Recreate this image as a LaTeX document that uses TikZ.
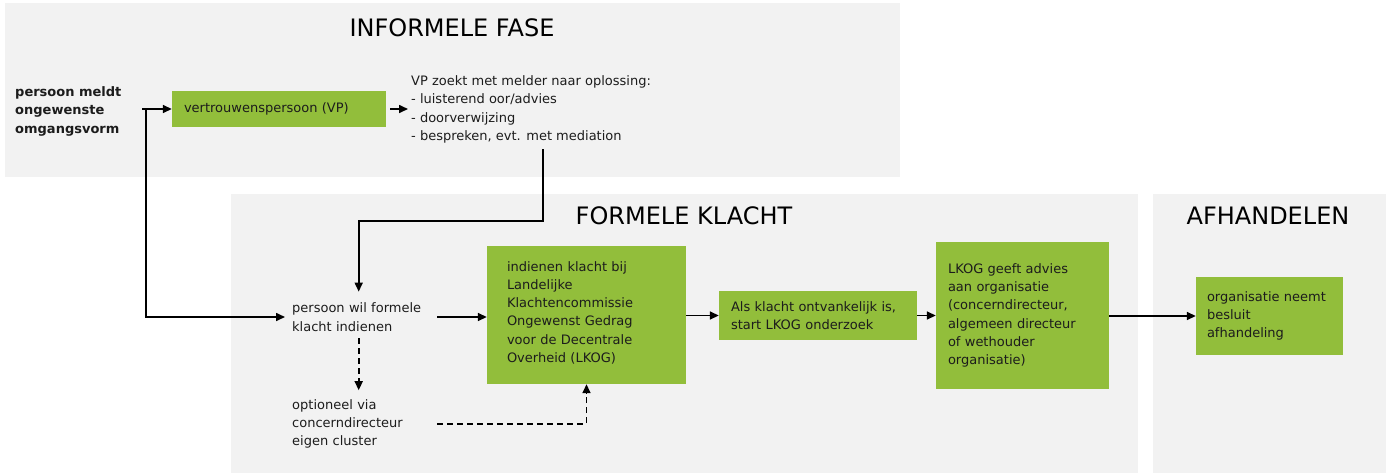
\documentclass[tikz,border=0pt]{standalone}
\usepackage{fontspec}
\setmainfont{DejaVu Sans}
\usetikzlibrary{arrows.meta}
\definecolor{panel}{RGB}{242,242,242}
\definecolor{leaf}{RGB}{146,190,59}
\definecolor{ink}{RGB}{28,28,28}

\begin{document}
\begin{tikzpicture}[x=1pt,y=-1pt,
  txt/.style={font=\fontsize{13}{18.3}\selectfont, text=ink, align=left, inner ysep=3pt},
  greenbox/.style={txt, fill=leaf, inner ysep=0pt},
  phasetitle/.style={font=\fontsize{24}{28}\selectfont, text=black, inner sep=0pt},
  arr/.style={-{Triangle[length=9pt,width=8pt]}, line width=1.6pt, black},
  darr/.style={arr, dash pattern=on 6pt off 4pt}]

\useasboundingbox (0,0) rectangle (1390,474);
\fill[white] (0,0) rectangle (1390,474);

% phase panels
\fill[panel] (5,3) rectangle (900,177);
\fill[panel] (231,194) rectangle (1138,473);
\fill[panel] (1153,194) rectangle (1386,473);

\node[phasetitle] (tinf) at (452,28) {INFORMELE FASE};
\node[phasetitle] (tform) at (684,216) {FORMELE KLACHT};
\node[phasetitle] (tafh) at (1268,216) {AFHANDELEN};

% informal phase
\node[txt, anchor=west, inner sep=0pt, font=\fontsize{13}{18.5}\selectfont\bfseries]
  (melder) at (15,111) {persoon meldt\\ongewenste\\omgangsvorm};
\node[greenbox, minimum height=36pt, text width=190pt, inner xsep=12pt]
  (vp) at (279,109) {vertrouwenspersoon (VP)};
\node[txt, anchor=west, inner xsep=3pt] (vptext) at (408,109.5)
  {VP zoekt met melder naar oplossing:\\- luisterend oor/advies\\- doorverwijzing\\- bespreken, evt. met mediation};

% formal complaint
\node[txt, anchor=west, inner xsep=7pt, text width=133pt] (wil) at (285,317)
  {persoon wil formele\\klacht indienen};
\node[txt, anchor=west, inner xsep=7pt, text width=133pt] (opt) at (285,424)
  {optioneel via\\concerndirecteur\\eigen cluster};
\node[greenbox, minimum height=138pt, text width=159pt, inner xsep=20pt]
  (lkog) at (586.5,315)
  {indienen klacht bij\\Landelijke\\Klachtencommissie\\Ongewenst Gedrag\\voor de Decentrale\\Overheid (LKOG)\\[-12pt]\mbox{}};
\node[greenbox, minimum height=49pt, text width=174pt, inner xsep=12pt]
  (onderzoek) at (818,315.5) {Als klacht ontvankelijk is,\\start LKOG onderzoek};
\node[greenbox, minimum height=147pt, text width=149pt, inner xsep=12pt]
  (advies) at (1022.5,315.5)
  {LKOG geeft advies\\aan organisatie\\(concerndirecteur,\\algemeen directeur\\of wethouder\\organisatie)};

% handling
\node[greenbox, minimum height=78pt, text width=125pt, inner xsep=11pt]
  (besluit) at (1269.5,316) {organisatie neemt\\besluit\\afhandeling};

% connectors
\coordinate (split) at (142,109);
\coordinate (fork) at (146,109);
\coordinate (bend) at (543,221);

\draw[arr] (split) -- (vp.west);
\draw[arr] (fork) |- (wil.west);
\draw[arr, shorten <=4pt] (vp.east) -- (vp.east -| vptext.west);
\draw[arr, shorten <=3pt, shorten >=8pt] (vptext.south -| bend) -- (bend) -| (wil.north);
\draw[arr, shorten <=5pt] (wil.east) -- (wil.east -| lkog.west);
\draw[arr] (lkog.east |- onderzoek.west) -- (onderzoek.west);
\draw[arr] (onderzoek.east) -- (onderzoek.east -| advies.west);
\draw[arr] (advies.east |- besluit.west) -- (besluit.west);
\draw[darr, shorten <=4pt, shorten >=6pt] (wil.south) -- (wil.south |- opt.north);
\draw[darr, shorten <=5pt] (opt.east) -| (lkog.south);

\end{tikzpicture}
\end{document}
